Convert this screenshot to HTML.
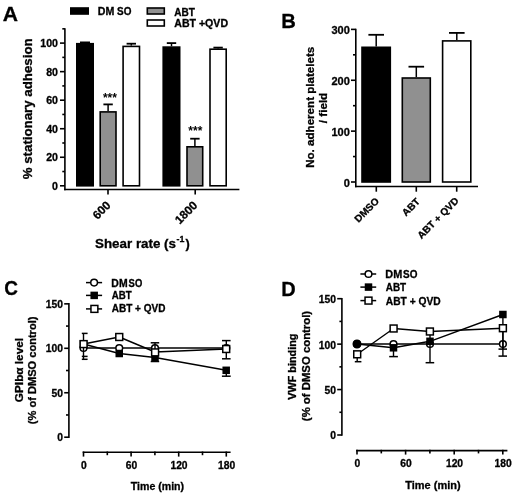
<!DOCTYPE html>
<html><head><meta charset="utf-8"><style>
html,body{margin:0;padding:0;background:#fff;}
svg{display:block;will-change:transform;}
text{font-family:"Liberation Sans",sans-serif;font-weight:bold;fill:#000;stroke:#000;stroke-width:0.3px;}
</style></head><body>
<svg width="520" height="498" viewBox="0 0 520 498">
<rect width="520" height="498" fill="#fff"/>
<text x="2.89" y="20.6" font-size="20.5" textLength="15.24" lengthAdjust="spacingAndGlyphs" >A</text>
<rect x="70" y="7.2" width="19" height="7.6" fill="#000"/>
<text x="97.86" y="14.9" font-size="10" textLength="16.54" lengthAdjust="spacingAndGlyphs" >DM</text>
<text x="117.10" y="14.9" font-size="10" textLength="14.34" lengthAdjust="spacingAndGlyphs" >SO</text>
<rect x="147.3" y="8" width="17" height="6" fill="#909090" stroke="#000" stroke-width="1.6"/>
<text x="174.30" y="15.5" font-size="10" textLength="20.65" lengthAdjust="spacingAndGlyphs" >ABT</text>
<rect x="147.3" y="20" width="17" height="6" fill="#fff" stroke="#000" stroke-width="1.6"/>
<text x="174.28" y="26.8" font-size="10" textLength="53.78" lengthAdjust="spacingAndGlyphs" >ABT +QVD</text>
<line x1="64.9" y1="28.3" x2="64.9" y2="190.3" stroke="#000" stroke-width="1.6"/>
<line x1="64.1" y1="189.5" x2="239.4" y2="189.5" stroke="#000" stroke-width="1.6"/>
<line x1="60" y1="185.8" x2="64.9" y2="185.8" stroke="#000" stroke-width="1.6"/>
<text x="58" y="189.70000000000002" font-size="10.6" text-anchor="end" >0</text>
<line x1="62.3" y1="171.53" x2="64.9" y2="171.53" stroke="#000" stroke-width="1.6"/>
<line x1="60" y1="157.26" x2="64.9" y2="157.26" stroke="#000" stroke-width="1.6"/>
<text x="58" y="161.16" font-size="10.6" text-anchor="end" >20</text>
<line x1="62.3" y1="142.99" x2="64.9" y2="142.99" stroke="#000" stroke-width="1.6"/>
<line x1="60" y1="128.72" x2="64.9" y2="128.72" stroke="#000" stroke-width="1.6"/>
<text x="58" y="132.62" font-size="10.6" text-anchor="end" >40</text>
<line x1="62.3" y1="114.45" x2="64.9" y2="114.45" stroke="#000" stroke-width="1.6"/>
<line x1="60" y1="100.18" x2="64.9" y2="100.18" stroke="#000" stroke-width="1.6"/>
<text x="58" y="104.08000000000001" font-size="10.6" text-anchor="end" >60</text>
<line x1="62.3" y1="85.91" x2="64.9" y2="85.91" stroke="#000" stroke-width="1.6"/>
<line x1="60" y1="71.64" x2="64.9" y2="71.64" stroke="#000" stroke-width="1.6"/>
<text x="58" y="75.54" font-size="10.6" text-anchor="end" >80</text>
<line x1="62.3" y1="57.37" x2="64.9" y2="57.37" stroke="#000" stroke-width="1.6"/>
<line x1="60" y1="43.1" x2="64.9" y2="43.1" stroke="#000" stroke-width="1.6"/>
<text x="58" y="47.0" font-size="10.6" text-anchor="end" >100</text>
<line x1="62.3" y1="28.83" x2="64.9" y2="28.83" stroke="#000" stroke-width="1.6"/>
<line x1="108" y1="189.5" x2="108" y2="194.4" stroke="#000" stroke-width="1.6"/>
<line x1="195.2" y1="189.5" x2="195.2" y2="194.4" stroke="#000" stroke-width="1.6"/>
<rect x="76.8" y="43.699999999999996" width="16.4" height="142.1" fill="#000" stroke="#000" stroke-width="1.6"/>
<rect x="100.2" y="111.89999999999999" width="15.799999999999992" height="73.90000000000002" fill="#909090" stroke="#000" stroke-width="1.6"/>
<rect x="123.1" y="46.4" width="16.400000000000013" height="139.4" fill="#fff" stroke="#000" stroke-width="1.6"/>
<rect x="163.20000000000002" y="47.099999999999994" width="16.499999999999993" height="138.7" fill="#000" stroke="#000" stroke-width="1.6"/>
<rect x="187.0" y="146.8" width="15.700000000000012" height="39.000000000000014" fill="#909090" stroke="#000" stroke-width="1.6"/>
<rect x="210.0" y="49.199999999999996" width="16.20000000000001" height="136.6" fill="#fff" stroke="#000" stroke-width="1.6"/>
<line x1="85" y1="42.4" x2="85" y2="43.5" stroke="#000" stroke-width="1.5"/>
<line x1="80" y1="42.4" x2="90" y2="42.4" stroke="#000" stroke-width="1.8"/>
<line x1="108.1" y1="104.4" x2="108.1" y2="111.1" stroke="#000" stroke-width="1.5"/>
<line x1="103.39999999999999" y1="104.4" x2="112.8" y2="104.4" stroke="#000" stroke-width="1.8"/>
<line x1="131.3" y1="43.7" x2="131.3" y2="45.6" stroke="#000" stroke-width="1.5"/>
<line x1="126.60000000000001" y1="43.7" x2="136.0" y2="43.7" stroke="#000" stroke-width="1.8"/>
<line x1="171.5" y1="43.1" x2="171.5" y2="46.3" stroke="#000" stroke-width="1.5"/>
<line x1="166.8" y1="43.1" x2="176.2" y2="43.1" stroke="#000" stroke-width="1.8"/>
<line x1="194.9" y1="138.7" x2="194.9" y2="146" stroke="#000" stroke-width="1.5"/>
<line x1="190.20000000000002" y1="138.7" x2="199.6" y2="138.7" stroke="#000" stroke-width="1.8"/>
<line x1="218.1" y1="47.6" x2="218.1" y2="48.4" stroke="#000" stroke-width="1.5"/>
<line x1="213.4" y1="47.6" x2="222.79999999999998" y2="47.6" stroke="#000" stroke-width="1.8"/>
<text x="109.9" y="102.1" font-size="12" text-anchor="middle" fill="#111" style="stroke:none">***</text>
<text x="195.35" y="134.8" font-size="12" text-anchor="middle" fill="#111" style="stroke:none">***</text>
<text transform="translate(111.3,206) rotate(-45)" x="0" y="0" font-size="11.8" text-anchor="end">600</text>
<text transform="translate(198.2,206.1) rotate(-45)" x="0" y="0" font-size="11.8" text-anchor="end">1800</text>
<text x="95.07" y="248" font-size="12.4" textLength="80.90" lengthAdjust="spacingAndGlyphs" >Shear rate (s</text>
<text x="176.6" y="241.8" font-size="8.8" text-anchor="start" >-1</text>
<text x="185.40" y="248" font-size="12.4" textLength="4.25" lengthAdjust="spacingAndGlyphs" >)</text>
<text transform="translate(32.4,179.32) rotate(-90)" x="0" y="0" font-size="12.4" textLength="141.00" lengthAdjust="spacingAndGlyphs" >% stationary adhesion</text>
<text x="281.22" y="27.5" font-size="20.5" textLength="14.57" lengthAdjust="spacingAndGlyphs" >B</text>
<line x1="355.8" y1="28.8" x2="355.8" y2="187.3" stroke="#000" stroke-width="1.6"/>
<line x1="355" y1="186.5" x2="478" y2="186.5" stroke="#000" stroke-width="1.6"/>
<line x1="351" y1="182.0" x2="355.8" y2="182.0" stroke="#000" stroke-width="1.6"/>
<text x="349.8" y="186.5" font-size="11" text-anchor="end" >0</text>
<line x1="353" y1="156.56" x2="355.8" y2="156.56" stroke="#000" stroke-width="1.6"/>
<line x1="351" y1="131.13" x2="355.8" y2="131.13" stroke="#000" stroke-width="1.6"/>
<text x="349.8" y="135.63" font-size="11" text-anchor="end" >100</text>
<line x1="353" y1="105.69" x2="355.8" y2="105.69" stroke="#000" stroke-width="1.6"/>
<line x1="351" y1="80.26" x2="355.8" y2="80.26" stroke="#000" stroke-width="1.6"/>
<text x="349.8" y="84.76" font-size="11" text-anchor="end" >200</text>
<line x1="353" y1="54.82" x2="355.8" y2="54.82" stroke="#000" stroke-width="1.6"/>
<line x1="351" y1="29.39" x2="355.8" y2="29.39" stroke="#000" stroke-width="1.6"/>
<text x="349.8" y="33.89" font-size="11" text-anchor="end" >300</text>
<line x1="376.3" y1="186.5" x2="376.3" y2="191.7" stroke="#000" stroke-width="1.6"/>
<line x1="416.3" y1="186.5" x2="416.3" y2="191.7" stroke="#000" stroke-width="1.6"/>
<line x1="456.7" y1="186.5" x2="456.7" y2="191.7" stroke="#000" stroke-width="1.6"/>
<rect x="362.0" y="47.3" width="28.300000000000033" height="134.7" fill="#000" stroke="#000" stroke-width="1.6"/>
<rect x="402.3" y="78.0" width="28.00000000000002" height="104.0" fill="#909090" stroke="#000" stroke-width="1.6"/>
<rect x="442.6" y="40.9" width="28.20000000000001" height="141.1" fill="#fff" stroke="#000" stroke-width="1.6"/>
<line x1="376.2" y1="34.8" x2="376.2" y2="46.5" stroke="#000" stroke-width="1.5"/>
<line x1="368.4" y1="34.8" x2="384.0" y2="34.8" stroke="#000" stroke-width="1.8"/>
<line x1="416.3" y1="66.7" x2="416.3" y2="77.2" stroke="#000" stroke-width="1.5"/>
<line x1="408.5" y1="66.7" x2="424.1" y2="66.7" stroke="#000" stroke-width="1.8"/>
<line x1="456.8" y1="32.9" x2="456.8" y2="40.1" stroke="#000" stroke-width="1.5"/>
<line x1="449.0" y1="32.9" x2="464.6" y2="32.9" stroke="#000" stroke-width="1.8"/>
<text transform="translate(379.8,201.7) rotate(-45)" x="0" y="0" font-size="10" text-anchor="end">DMSO</text>
<text transform="translate(420.6,202.1) rotate(-45)" x="0" y="0" font-size="10" text-anchor="end">ABT</text>
<text transform="translate(459.3,201.5) rotate(-45)" x="0" y="0" font-size="10" text-anchor="end">ABT + QVD</text>
<text transform="translate(314,167.85) rotate(-90)" x="0" y="0" font-size="10.8" textLength="121.10" lengthAdjust="spacingAndGlyphs" >No. adherent platelets</text>
<text transform="translate(326.8,123.21) rotate(-90)" x="0" y="0" font-size="10.8" textLength="30.46" lengthAdjust="spacingAndGlyphs" >/ field</text>
<text x="4.26" y="294.6" font-size="20.5" textLength="13.70" lengthAdjust="spacingAndGlyphs" >C</text>
<line x1="68.9" y1="303" x2="68.9" y2="437.9" stroke="#000" stroke-width="1.6"/>
<line x1="64.2" y1="437.2" x2="68.9" y2="437.2" stroke="#000" stroke-width="1.6"/>
<text x="62.9" y="441.0" font-size="10.3" text-anchor="end" >0</text>
<line x1="64.2" y1="392.75" x2="68.9" y2="392.75" stroke="#000" stroke-width="1.6"/>
<text x="62.9" y="396.55" font-size="10.3" text-anchor="end" >50</text>
<line x1="64.2" y1="348.3" x2="68.9" y2="348.3" stroke="#000" stroke-width="1.6"/>
<text x="62.9" y="352.1" font-size="10.3" text-anchor="end" >100</text>
<line x1="64.2" y1="303.85" x2="68.9" y2="303.85" stroke="#000" stroke-width="1.6"/>
<text x="62.9" y="307.65000000000003" font-size="10.3" text-anchor="end" >150</text>
<line x1="66" y1="414.97" x2="68.9" y2="414.97" stroke="#000" stroke-width="1.6"/>
<line x1="66" y1="370.52" x2="68.9" y2="370.52" stroke="#000" stroke-width="1.6"/>
<line x1="66" y1="326.07" x2="68.9" y2="326.07" stroke="#000" stroke-width="1.6"/>
<line x1="82.7" y1="452.3" x2="230.6" y2="452.3" stroke="#000" stroke-width="1.6"/>
<line x1="83.5" y1="451.5" x2="83.5" y2="456.6" stroke="#000" stroke-width="1.6"/>
<text x="83.8" y="468.6" font-size="10.3" text-anchor="middle" >0</text>
<line x1="107.3" y1="451.5" x2="107.3" y2="455.2" stroke="#000" stroke-width="1.6"/>
<line x1="131.1" y1="451.5" x2="131.1" y2="456.6" stroke="#000" stroke-width="1.6"/>
<text x="131.4" y="468.6" font-size="10.3" text-anchor="middle" >60</text>
<line x1="154.9" y1="451.5" x2="154.9" y2="455.2" stroke="#000" stroke-width="1.6"/>
<line x1="178.7" y1="451.5" x2="178.7" y2="456.6" stroke="#000" stroke-width="1.6"/>
<text x="179.0" y="468.6" font-size="10.3" text-anchor="middle" >120</text>
<line x1="202.5" y1="451.5" x2="202.5" y2="455.2" stroke="#000" stroke-width="1.6"/>
<line x1="226.29" y1="451.5" x2="226.29" y2="456.6" stroke="#000" stroke-width="1.6"/>
<text x="226.59" y="468.6" font-size="10.3" text-anchor="middle" >180</text>
<text x="130.80" y="489.6" font-size="10.6" textLength="53.30" lengthAdjust="spacingAndGlyphs" >Time (min)</text>
<text transform="translate(23.3,402.15) rotate(-90)" x="0" y="0" font-size="10.5" textLength="64.16" lengthAdjust="spacingAndGlyphs" >GPIb&#945; level</text>
<text transform="translate(36.4,424.13) rotate(-90)" x="0" y="0" font-size="10.5" textLength="107.53" lengthAdjust="spacingAndGlyphs" >(% of DMSO control)</text>
<line x1="86" y1="282.6" x2="102.1" y2="282.6" stroke="#000" stroke-width="1.5"/>
<circle cx="94.1" cy="282.6" r="3.35" fill="#fff" stroke="#000" stroke-width="1.5"/>
<text x="111.37" y="286.5" font-size="10" textLength="16.21" lengthAdjust="spacingAndGlyphs" >DM</text>
<text x="128.62" y="286.5" font-size="10" textLength="13.61" lengthAdjust="spacingAndGlyphs" >SO</text>
<line x1="86" y1="295.4" x2="102.1" y2="295.4" stroke="#000" stroke-width="1.5"/>
<rect x="90.45" y="291.65" width="7.5" height="7.5" fill="#000"/>
<text x="111.81" y="299.2" font-size="10" textLength="19.94" lengthAdjust="spacingAndGlyphs" >ABT</text>
<line x1="86" y1="308.9" x2="102.1" y2="308.9" stroke="#000" stroke-width="1.5"/>
<rect x="90.95" y="305.45" width="6.9" height="6.9" fill="#fff" stroke="#000" stroke-width="1.5"/>
<text x="111.80" y="312.4" font-size="10" textLength="53.62" lengthAdjust="spacingAndGlyphs" >ABT + QVD</text>
<polyline points="83.5,348 226.3,348" fill="none" stroke="#000" stroke-width="1.4" stroke-linejoin="round"/>
<circle cx="83.5" cy="348" r="3.35" fill="#fff" stroke="#000" stroke-width="1.5"/>
<circle cx="119.25" cy="348" r="3.35" fill="#fff" stroke="#000" stroke-width="1.5"/>
<circle cx="155" cy="348" r="3.35" fill="#fff" stroke="#000" stroke-width="1.5"/>
<circle cx="226.3" cy="348" r="3.35" fill="#fff" stroke="#000" stroke-width="1.5"/>
<polyline points="83.5,344 119.25,353.5 155,357.5 226.3,370.3" fill="none" stroke="#000" stroke-width="1.4" stroke-linejoin="round"/>
<line x1="226.3" y1="370.3" x2="226.3" y2="376.2" stroke="#000" stroke-width="1.4"/>
<line x1="221.9" y1="376.2" x2="230.7" y2="376.2" stroke="#000" stroke-width="1.5"/>
<rect x="79.75" y="340.25" width="7.5" height="7.5" fill="#000"/>
<rect x="115.5" y="349.75" width="7.5" height="7.5" fill="#000"/>
<rect x="151.25" y="353.75" width="7.5" height="7.5" fill="#000"/>
<rect x="222.45" y="366.55" width="7.5" height="7.5" fill="#000"/>
<polyline points="83.5,344 119.25,337 155,352 226.3,349" fill="none" stroke="#000" stroke-width="1.4" stroke-linejoin="round"/>
<line x1="83.5" y1="333.4" x2="83.5" y2="359.3" stroke="#000" stroke-width="1.4"/>
<line x1="81.8" y1="333.4" x2="87.6" y2="333.4" stroke="#000" stroke-width="1.5"/>
<line x1="81.8" y1="356.4" x2="87.6" y2="356.4" stroke="#000" stroke-width="1.5"/>
<line x1="81.8" y1="359.3" x2="87.6" y2="359.3" stroke="#000" stroke-width="1.5"/>
<line x1="155" y1="342.8" x2="155" y2="361.5" stroke="#000" stroke-width="1.4"/>
<line x1="150.7" y1="342.8" x2="159.2" y2="342.8" stroke="#000" stroke-width="1.5"/>
<line x1="150.7" y1="361.5" x2="159.2" y2="361.5" stroke="#000" stroke-width="1.5"/>
<line x1="226.3" y1="340.6" x2="226.3" y2="358.8" stroke="#000" stroke-width="1.4"/>
<line x1="222" y1="340.6" x2="230.6" y2="340.6" stroke="#000" stroke-width="1.5"/>
<line x1="222" y1="358.8" x2="230.6" y2="358.8" stroke="#000" stroke-width="1.5"/>
<rect x="80.14999999999999" y="340.65000000000003" width="6.9" height="6.9" fill="#fff" stroke="#000" stroke-width="1.5"/>
<rect x="115.8" y="333.55" width="6.9" height="6.9" fill="#fff" stroke="#000" stroke-width="1.5"/>
<rect x="151.65" y="348.95" width="6.9" height="6.9" fill="#fff" stroke="#000" stroke-width="1.5"/>
<rect x="222.75" y="345.55" width="6.9" height="6.9" fill="#fff" stroke="#000" stroke-width="1.5"/>
<text x="281.23" y="295.5" font-size="20.5" textLength="14.45" lengthAdjust="spacingAndGlyphs" >D</text>
<line x1="341.9" y1="298" x2="341.9" y2="435.7" stroke="#000" stroke-width="1.6"/>
<line x1="337.2" y1="435.0" x2="341.9" y2="435.0" stroke="#000" stroke-width="1.6"/>
<text x="335.9" y="439.4" font-size="10.3" text-anchor="end" >0</text>
<line x1="337.2" y1="389.56" x2="341.9" y2="389.56" stroke="#000" stroke-width="1.6"/>
<text x="335.9" y="393.96" font-size="10.3" text-anchor="end" >50</text>
<line x1="337.2" y1="344.13" x2="341.9" y2="344.13" stroke="#000" stroke-width="1.6"/>
<text x="335.9" y="348.53" font-size="10.3" text-anchor="end" >100</text>
<line x1="337.2" y1="298.69" x2="341.9" y2="298.69" stroke="#000" stroke-width="1.6"/>
<text x="335.9" y="303.09" font-size="10.3" text-anchor="end" >150</text>
<line x1="339.4" y1="412.28" x2="341.9" y2="412.28" stroke="#000" stroke-width="1.6"/>
<line x1="339.4" y1="366.85" x2="341.9" y2="366.85" stroke="#000" stroke-width="1.6"/>
<line x1="339.4" y1="321.41" x2="341.9" y2="321.41" stroke="#000" stroke-width="1.6"/>
<line x1="356.2" y1="450.6" x2="507.4" y2="450.6" stroke="#000" stroke-width="1.6"/>
<line x1="357.0" y1="449.8" x2="357.0" y2="454.6" stroke="#000" stroke-width="1.6"/>
<text x="357.3" y="467.2" font-size="10.3" text-anchor="middle" >0</text>
<line x1="381.3" y1="449.8" x2="381.3" y2="453.4" stroke="#000" stroke-width="1.6"/>
<line x1="405.6" y1="449.8" x2="405.6" y2="454.6" stroke="#000" stroke-width="1.6"/>
<text x="405.90000000000003" y="467.2" font-size="10.3" text-anchor="middle" >60</text>
<line x1="429.9" y1="449.8" x2="429.9" y2="453.4" stroke="#000" stroke-width="1.6"/>
<line x1="454.2" y1="449.8" x2="454.2" y2="454.6" stroke="#000" stroke-width="1.6"/>
<text x="454.5" y="467.2" font-size="10.3" text-anchor="middle" >120</text>
<line x1="478.5" y1="449.8" x2="478.5" y2="453.4" stroke="#000" stroke-width="1.6"/>
<line x1="502.8" y1="449.8" x2="502.8" y2="454.6" stroke="#000" stroke-width="1.6"/>
<text x="503.1" y="467.2" font-size="10.3" text-anchor="middle" >180</text>
<text x="405.30" y="488.7" font-size="10.6" textLength="55.32" lengthAdjust="spacingAndGlyphs" >Time (min)</text>
<text transform="translate(296,399.70) rotate(-90)" x="0" y="0" font-size="10.5" textLength="66.18" lengthAdjust="spacingAndGlyphs" >VWF binding</text>
<text transform="translate(309.8,421.14) rotate(-90)" x="0" y="0" font-size="10.5" textLength="110.25" lengthAdjust="spacingAndGlyphs" >(% of DMSO control)</text>
<line x1="360.4" y1="274" x2="376.2" y2="274" stroke="#000" stroke-width="1.5"/>
<circle cx="368.5" cy="274" r="3.35" fill="#fff" stroke="#000" stroke-width="1.5"/>
<text x="385.36" y="277.7" font-size="10.3" textLength="16.90" lengthAdjust="spacingAndGlyphs" >DM</text>
<text x="403.11" y="277.7" font-size="10.3" textLength="14.36" lengthAdjust="spacingAndGlyphs" >SO</text>
<line x1="360.4" y1="287.1" x2="376.2" y2="287.1" stroke="#000" stroke-width="1.5"/>
<rect x="364.75" y="283.35" width="7.5" height="7.5" fill="#000"/>
<text x="385.81" y="291.3" font-size="10.3" textLength="20.36" lengthAdjust="spacingAndGlyphs" >ABT</text>
<line x1="360.4" y1="300.6" x2="376.2" y2="300.6" stroke="#000" stroke-width="1.5"/>
<rect x="365.05" y="297.15000000000003" width="6.9" height="6.9" fill="#fff" stroke="#000" stroke-width="1.5"/>
<text x="385.80" y="304.6" font-size="10.3" textLength="54.82" lengthAdjust="spacingAndGlyphs" >ABT + QVD</text>
<polyline points="357,344 502.9,344" fill="none" stroke="#000" stroke-width="1.4" stroke-linejoin="round"/>
<circle cx="357" cy="344" r="3.35" fill="#fff" stroke="#000" stroke-width="1.5"/>
<circle cx="393.5" cy="344" r="3.35" fill="#fff" stroke="#000" stroke-width="1.5"/>
<circle cx="430" cy="344" r="3.35" fill="#fff" stroke="#000" stroke-width="1.5"/>
<circle cx="502.9" cy="344" r="3.35" fill="#fff" stroke="#000" stroke-width="1.5"/>
<polyline points="357,344 393.5,347.8 430,341.3 502.9,314.5" fill="none" stroke="#000" stroke-width="1.4" stroke-linejoin="round"/>
<line x1="393.5" y1="347.8" x2="393.5" y2="356.6" stroke="#000" stroke-width="1.4"/>
<line x1="389.2" y1="356.6" x2="397.9" y2="356.6" stroke="#000" stroke-width="1.5"/>
<line x1="502.9" y1="314.5" x2="502.9" y2="349.1" stroke="#000" stroke-width="1.4"/>
<line x1="498.5" y1="349.1" x2="507" y2="349.1" stroke="#000" stroke-width="1.5"/>
<rect x="389.75" y="344.05" width="7.5" height="7.5" fill="#000"/>
<rect x="426.25" y="337.55" width="7.5" height="7.5" fill="#000"/>
<rect x="499.15" y="310.75" width="7.5" height="7.5" fill="#000"/>
<circle cx="357" cy="344" r="3.9" fill="#000" stroke="#000" stroke-width="1.2"/>
<polyline points="357.2,354.3 393.6,328.5 429.9,331.5 502.9,328.2" fill="none" stroke="#000" stroke-width="1.4" stroke-linejoin="round"/>
<line x1="357.2" y1="354.3" x2="357.2" y2="361.7" stroke="#000" stroke-width="1.4"/>
<line x1="354.8" y1="361.7" x2="361.4" y2="361.7" stroke="#000" stroke-width="1.5"/>
<line x1="430" y1="331.5" x2="430" y2="362.7" stroke="#000" stroke-width="1.4"/>
<line x1="425.6" y1="362.7" x2="434.2" y2="362.7" stroke="#000" stroke-width="1.5"/>
<line x1="502.9" y1="328.2" x2="502.9" y2="356.1" stroke="#000" stroke-width="1.4"/>
<line x1="498.5" y1="356.1" x2="507" y2="356.1" stroke="#000" stroke-width="1.5"/>
<rect x="353.75" y="350.85" width="6.9" height="6.9" fill="#fff" stroke="#000" stroke-width="1.5"/>
<rect x="390.15000000000003" y="325.05" width="6.9" height="6.9" fill="#fff" stroke="#000" stroke-width="1.5"/>
<rect x="426.45" y="328.05" width="6.9" height="6.9" fill="#fff" stroke="#000" stroke-width="1.5"/>
<rect x="499.45" y="324.75" width="6.9" height="6.9" fill="#fff" stroke="#000" stroke-width="1.5"/>
</svg>
</body></html>
